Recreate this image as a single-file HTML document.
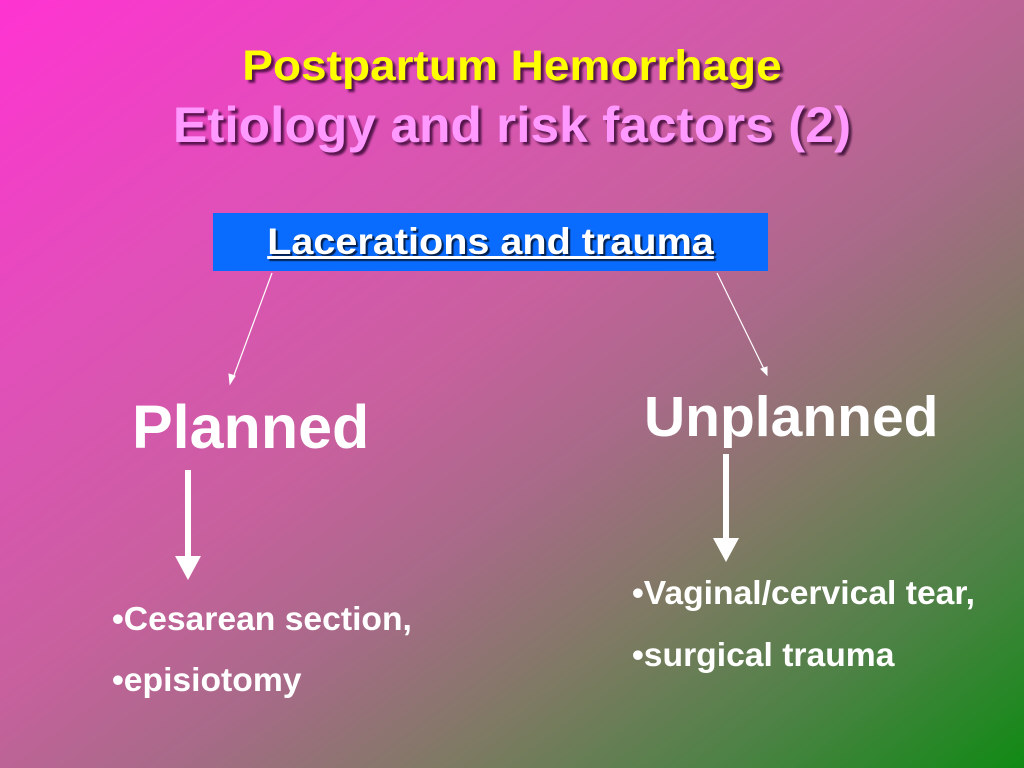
<!DOCTYPE html>
<html><head><meta charset="utf-8"><style>
html,body{margin:0;padding:0}
body{width:1024px;height:768px;position:relative;overflow:hidden;font-family:"Liberation Sans",Arial,sans-serif;font-weight:bold;
background:linear-gradient(to bottom right,#ff33d2 0%,#e050b8 25%,#c8609e 45%,#a86a88 58%,#7d7a62 72%,#4d8245 85%,#108a14 100%);}
.t{position:absolute;left:0;width:1024px;text-align:center;white-space:nowrap;text-shadow:3px 3px 2px rgba(40,0,40,.75)}
.w{position:absolute;color:#fff;white-space:nowrap}
</style></head><body>
<div class="t" style="top:42px;font-size:43px;color:#ffff00;transform:scaleX(1.07)">Postpartum Hemorrhage</div>
<div class="t" style="top:96px;font-size:50px;color:#ff99ff;transform:scaleX(1.03)">Etiology and risk factors (2)</div>
<div style="position:absolute;left:213px;top:213px;width:555px;height:58px;background:#0a6cff"></div>
<div class="w" style="left:213px;width:555px;top:221px;text-align:center;font-size:37px;text-decoration:underline;text-shadow:2px 2px 1px rgba(0,0,0,.7);transform:scaleX(1.07)">Lacerations and trauma</div>
<svg width="1024" height="768" style="position:absolute;left:0;top:0">
<g stroke="#fff" fill="#fff">
<line x1="272" y1="273" x2="233" y2="378" stroke-width="1.2"/>
<polygon points="230,384 229,374 235,376"/>
<line x1="717" y1="273" x2="764" y2="369" stroke-width="1.2"/>
<polygon points="767,375 761,369 767,367"/>
<rect x="185" y="470" width="6" height="88" stroke="none"/>
<polygon points="175,556 201,556 188,580" stroke="none"/>
<rect x="723" y="454" width="6" height="86" stroke="none"/>
<polygon points="713,538 739,538 726,562" stroke="none"/>
</g></svg>
<div class="w" style="left:132px;top:392px;font-size:61px">Planned</div>
<div class="w" style="left:644px;top:384px;font-size:57px">Unplanned</div>
<div class="w" style="left:112px;top:600px;font-size:33px;transform-origin:left;transform:scaleX(1.02)">•Cesarean section,</div>
<div class="w" style="left:112px;top:661px;font-size:33px;transform-origin:left;transform:scaleX(1.02)">•episiotomy</div>
<div class="w" style="left:632px;top:574px;font-size:33px;transform-origin:left;transform:scaleX(1.02)">•Vaginal/cervical tear,</div>
<div class="w" style="left:632px;top:636px;font-size:33px;transform-origin:left;transform:scaleX(1.02)">•surgical trauma</div>
</body></html>
